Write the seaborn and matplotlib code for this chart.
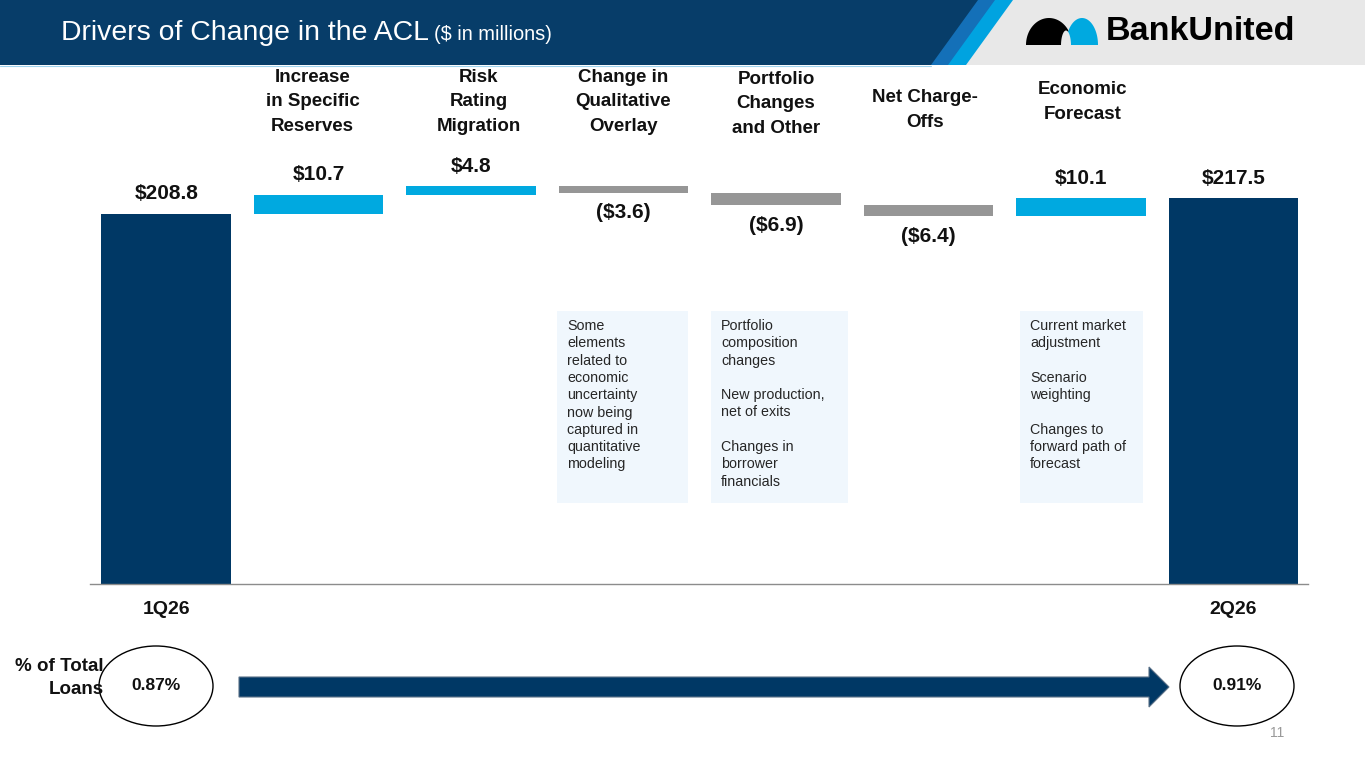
import numpy as np
import pandas as pd
import matplotlib
matplotlib.use("Agg")
import matplotlib.pyplot as plt
import matplotlib.transforms as mtransforms
from matplotlib.patches import Polygon, Rectangle, Ellipse, FancyArrow
import seaborn as sns

# ---------------- data ----------------
categories = ["1Q26", "Increase\nin Specific\nReserves", "Risk\nRating\nMigration",
              "Change in\nQualitative\nOverlay", "Portfolio\nChanges\nand Other",
              "Net Charge-\nOffs", "Economic\nForecast", "2Q26"]
values = [208.8, 10.7, 4.8, -3.6, -6.9, -6.4, 10.1, 217.5]
kinds = ["total", "delta", "delta", "delta", "delta", "delta", "delta", "total"]
period_labels = ["1Q26", "", "", "", "", "", "", "2Q26"]
pct_labels = ["0.87%", "0.91%"]
pct_row_label = "% of Total\nLoans"
note_qual = ("Some\nelements\nrelated to\neconomic\nuncertainty\nnow being\n"
             "captured in\nquantitative\nmodeling")
note_port = ("Portfolio\ncomposition\nchanges\n\nNew production,\nnet of exits\n\n"
             "Changes in\nborrower\nfinancials")
note_econ = ("Current market\nadjustment\n\nScenario\nweighting\n\n"
             "Changes to\nforward path of\nforecast")
title = "Drivers of Change in the ACL"
subtitle = "($ in millions)"
page_no = "11"

# ---------------- derived waterfall geometry ----------------
bottoms, heights, tops = [], [], []
running = 0.0
for v, k in zip(values, kinds):
    if k == "total":
        b, h = 0.0, v
        running = v
    else:
        new = running + v
        b, h = min(running, new), abs(v)
        running = new
    bottoms.append(b)
    heights.append(h)
    tops.append(b + h)

def fmt(v, k):
    if k == "total" or v >= 0:
        return f"${abs(v):.1f}"
    return f"(${abs(v):.1f})"

NAVY = "#003865"
LIGHT = "#00A9E0"
GRAY = "#969696"
colors = [NAVY if k == "total" else (LIGHT if v >= 0 else GRAY) for v, k in zip(values, kinds)]

# ---------------- figure ----------------
sns.set_theme(style="white")
plt.rcParams["font.family"] = ["Liberation Sans", "DejaVu Sans"]

W, H = 1365, 768
fig = plt.figure(figsize=(W / 100, H / 100), dpi=100)
fig.patch.set_facecolor("white")

ax = fig.add_axes([90 / W, (H - 584) / H, 1218 / W, 434.4 / H])
df = pd.DataFrame({"cat": categories, "h": heights})
sns.barplot(data=df, x="cat", y="h", order=categories, width=0.85,
            saturation=1, color=NAVY, ax=ax, errorbar=None)
for p, b, c in zip(ax.patches, bottoms, colors):
    p.set_y(b)
    p.set_facecolor(c)
    p.set_edgecolor("none")

ax.set_xlim(-0.5, 7.49)
ax.set_ylim(0, 245)
ax.set_xlabel("")
ax.set_ylabel("")
ax.set_yticks([])
ax.set_xticks(range(len(categories)))
ax.set_xticklabels(period_labels, fontsize=14, fontweight="bold", color="#111111")
ax.tick_params(axis="x", length=0, pad=12)
for s in ["top", "right", "left"]:
    ax.spines[s].set_visible(False)
ax.spines["bottom"].set_color("#8c8c8c")
ax.spines["bottom"].set_linewidth(1.0)
ax.set_facecolor("none")

for i, (v, k, t, b) in enumerate(zip(values, kinds, tops, bottoms)):
    if k == "total" or v >= 0:
        ax.annotate(fmt(v, k), xy=(i, t), xytext=(0, 14.5), textcoords="offset points",
                    ha="center", va="center", fontsize=15, fontweight="bold", color="#111111")
    else:
        ax.annotate(fmt(v, k), xy=(i, b), xytext=(0, -14.5), textcoords="offset points",
                    ha="center", va="center", fontsize=15, fontweight="bold", color="#111111")

# ---------------- overlay (pixel coords) ----------------
ov = fig.add_axes([0, 0, 1, 1])
ov.set_xlim(0, W)
ov.set_ylim(H, 0)
ov.axis("off")

# header band
ov.add_patch(Rectangle((0, 0), W, 65, color="#e8e8e8", lw=0))
ov.add_patch(Polygon([(0, 0), (1013, 0), (966, 65), (0, 65)], closed=True, color="#00A3E0", lw=0))
ov.add_patch(Polygon([(0, 0), (995, 0), (948, 65), (0, 65)], closed=True, color="#1470B8", lw=0))
ov.add_patch(Polygon([(0, 0), (978, 0), (931, 65), (0, 65)], closed=True, color="#073D69", lw=0))
ov.plot([0, 931], [65.5, 65.5], color="#9fd3ee", lw=0.8)

t1 = ov.text(61, 33, title, color="white", fontsize=20.4, va="center", ha="left")
fig.canvas.draw()
bb = t1.get_window_extent()
ov.text(bb.x1 + 5, 35, subtitle, color="white", fontsize=14.4, va="center", ha="left")

# logo
th = np.linspace(0, np.pi, 60)
ov.add_patch(Polygon(np.c_[1049 + 23 * np.cos(th), 45 - 27 * np.sin(th)], closed=True, color="black", lw=0))
ov.add_patch(Polygon(np.c_[1082 + 16 * np.cos(th), 45 - 27 * np.sin(th)], closed=True, color="#00A9E0", lw=0))
ov.add_patch(Polygon(np.c_[1066 + 5 * np.cos(th), 45.5 - 15 * np.sin(th)], closed=True, color="#e8e8e8", lw=0))
ov.text(1106, 32, "BankUnited", fontsize=24.6, fontweight="bold", color="black", va="center", ha="left")

# category headers
blend = mtransforms.blended_transform_factory(ax.transData, ov.transData)
header_y = [None, 102, 102, 102, 104, 110, 102, None]
header_dx = [0, -0.04, 0.05, 0, 0, -0.02, 0.01, 0]
for i, (c, y) in enumerate(zip(categories, header_y)):
    if y is None:
        continue
    ov.text(i + header_dx[i], y, c, transform=blend, ha="center", va="center",
            fontsize=13.5, fontweight="bold", color="#111111", linespacing=1.55)

# note boxes
BOX = "#f0f7fd"
boxes = [(557, 311, 131, 192, note_qual), (711, 311, 137, 192, note_port),
         (1020, 311, 123, 192, note_econ)]
for x0, y0, w, h, txt in boxes:
    ov.add_patch(Rectangle((x0, y0), w, h, color=BOX, lw=0))
    ov.text(x0 + 10, y0 + 8, txt, ha="left", va="top", fontsize=10.3,
            color="#262626", linespacing=1.3)

# % of total loans row
ov.text(104, 678, pct_row_label, ha="right", va="center", fontsize=13.5,
        fontweight="bold", color="#111111", linespacing=1.45)
for (cx, lab) in zip([156, 1237], pct_labels):
    ov.add_patch(Ellipse((cx, 686), 114, 80, fill=False, ec="black", lw=1.0))
    ov.text(cx, 686, lab, ha="center", va="center", fontsize=12.5,
            fontweight="bold", color="#111111")
ov.add_patch(FancyArrow(239, 687, 930, 0, width=20, head_width=40, head_length=20,
                        length_includes_head=True, fc=NAVY, ec="#5b7188", lw=0.8))

ov.text(1277, 733, page_no, ha="center", va="center", fontsize=10, color="#999999")

fig.savefig("out.png", dpi=100)
